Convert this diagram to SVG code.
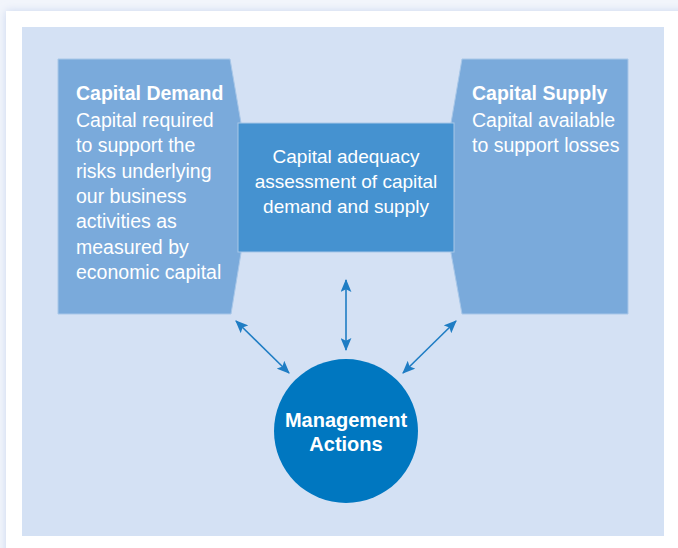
<svg xmlns="http://www.w3.org/2000/svg" width="678" height="548" viewBox="0 0 678 548">
  <defs>
    <filter id="glow" x="-5%" y="-5%" width="110%" height="110%">
      <feGaussianBlur stdDeviation="4"/>
    </filter>
    <marker id="ah" viewBox="0 0 12 10" refX="11" refY="5" markerWidth="13" markerHeight="11" markerUnits="userSpaceOnUse" orient="auto-start-reverse">
      <path d="M0,0 L12,5 L0,10 L2.5,5 Z" fill="#1f7dc4"/>
    </marker>
  </defs>
  <style>
    .side { fill: #7aaadb; stroke: #a8c7e8; stroke-width: 1; }
    .center { fill: #4592d0; stroke: #a8c7e8; stroke-width: 1; }
    .t { font-family: "Liberation Sans", Arial, sans-serif; fill: #ffffff; font-size: 19.5px; }
    .c { font-size: 19px; }
    .m { font-size: 20px; }
    .b { font-weight: bold; }
    .conn { stroke: #1f7dc4; stroke-width: 1.6; fill: none; marker-start: url(#ah); marker-end: url(#ah); }
  </style>
  <rect x="0" y="0" width="678" height="548" fill="#f2f5fb"/>
  <rect x="6" y="11" width="690" height="560" fill="#c9d6ef" filter="url(#glow)"/>
  <rect x="6" y="11" width="690" height="560" fill="#ffffff"/>
  <rect x="22" y="27" width="642" height="509" fill="#d4e1f4"/>

  <g id="capital-demand">
    <polygon class="side" points="58,59 230,59 241,123 241,253 231,314 58,314"/>
    <text class="t b" x="76" y="100">Capital Demand</text>
    <text class="t" x="76" y="127">Capital required</text>
    <text class="t" x="76" y="152.3">to support the</text>
    <text class="t" x="76" y="177.6">risks underlying</text>
    <text class="t" x="76" y="202.9">our business</text>
    <text class="t" x="76" y="228.2">activities as</text>
    <text class="t" x="76" y="253.5">measured by</text>
    <text class="t" x="76" y="278.8">economic capital</text>
  </g>

  <g id="capital-supply">
    <polygon class="side" points="462,59 628,59 628,314 462,314 451,253 451,123"/>
    <text class="t b" x="472" y="100">Capital Supply</text>
    <text class="t" x="472" y="127">Capital available</text>
    <text class="t" x="472" y="152.3">to support losses</text>
  </g>

  <g id="capital-adequacy">
    <rect class="center" x="238" y="123" width="216" height="129"/>
    <text class="t c" x="346" y="163" text-anchor="middle">Capital adequacy</text>
    <text class="t c" x="346" y="188" text-anchor="middle">assessment of capital</text>
    <text class="t c" x="346" y="213" text-anchor="middle">demand and supply</text>
  </g>

  <g id="management-actions">
    <circle cx="346" cy="431" r="72" fill="#0077c0"/>
    <text class="t b m" x="346" y="427" text-anchor="middle">Management</text>
    <text class="t b m" x="346" y="451" text-anchor="middle">Actions</text>
  </g>

  <g id="connectors">
    <line class="conn" x1="346" y1="280" x2="346" y2="350"/>
    <line class="conn" x1="236" y1="321" x2="289" y2="373"/>
    <line class="conn" x1="456" y1="321" x2="403" y2="373"/>
  </g>
</svg>
